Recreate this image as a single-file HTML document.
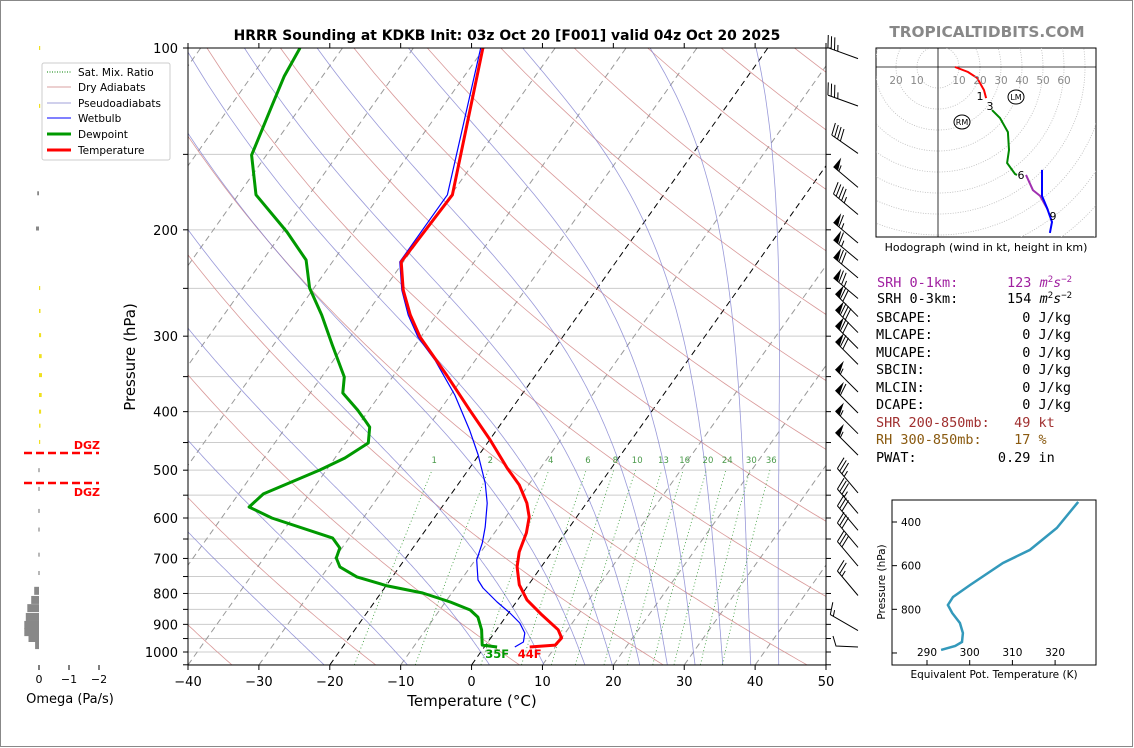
<!DOCTYPE html>
<html><head><meta charset="utf-8"><style>
html,body{margin:0;padding:0;background:#fff;}
svg{display:block;font-family:"DejaVu Sans","Liberation Sans",sans-serif;}
.mono{font-family:"DejaVu Sans Mono","Liberation Mono",monospace;font-size:13.5px;}
</style></head><body>
<svg id="chart" width="1134" height="748" viewBox="0 0 1134 748" xmlns="http://www.w3.org/2000/svg">
<rect x="0.5" y="0.5" width="1132" height="746" fill="#fff" stroke="#888"/>
<defs><clipPath id="plotclip"><rect x="188" y="48" width="638" height="617"/></clipPath>
<clipPath id="hodoclip"><rect x="876" y="48" width="220" height="189"/></clipPath>
<clipPath id="theclip"><rect x="892" y="500" width="204" height="165"/></clipPath></defs>
<text x="507" y="40" text-anchor="middle" font-size="13.9" font-weight="bold">HRRR Sounding at KDKB Init: 03z Oct 20 [F001] valid 04z Oct 20 2025</text>
<text x="987" y="37" text-anchor="middle" font-size="15.3" font-weight="bold" fill="#888">TROPICALTIDBITS.COM</text>
<g id="bg" clip-path="url(#plotclip)"></g>
<g id="series" clip-path="url(#plotclip)"></g>
<rect x="188" y="48" width="638" height="617" fill="none" stroke="#000"/>
<g id="axes"></g>
<text x="472" y="706" text-anchor="middle" font-size="15">Temperature (°C)</text>
<text transform="translate(135,357) rotate(-90)" text-anchor="middle" font-size="15">Pressure (hPa)</text>
<g>
<rect x="42" y="63" width="128" height="97" rx="2" fill="#fff" stroke="#ccc"/>
<line x1="47" y1="72" x2="71" y2="72" stroke="green" stroke-dasharray="1,1.5"/>
<text x="78" y="76" font-size="10.5">Sat. Mix. Ratio</text>
<line x1="47" y1="87" x2="71" y2="87" stroke="#d9a0a0"/>
<text x="78" y="91" font-size="10.5">Dry Adiabats</text>
<line x1="47" y1="103" x2="71" y2="103" stroke="#a0a0d9"/>
<text x="78" y="107" font-size="10.5">Pseudoadiabats</text>
<line x1="47" y1="118" x2="71" y2="118" stroke="#00f"/>
<text x="78" y="122" font-size="10.5">Wetbulb</text>
<line x1="47" y1="134" x2="71" y2="134" stroke="#090" stroke-width="3"/>
<text x="78" y="138" font-size="10.5">Dewpoint</text>
<line x1="47" y1="150" x2="71" y2="150" stroke="#f00" stroke-width="3"/>
<text x="78" y="154" font-size="10.5">Temperature</text>
</g>
<g id="omega"></g>
<text x="70" y="703" text-anchor="middle" font-size="13">Omega (Pa/s)</text>
<g id="barbs"></g>
<g id="hodo"></g>
<text x="986" y="251" text-anchor="middle" font-size="11">Hodograph (wind in kt, height in km)</text>
<g>
<text class="mono" x="877" y="287" fill="#a020a0" xml:space="preserve">SRH 0-1km:      123 <tspan font-style="italic">m</tspan><tspan font-size="9" dy="-5">2</tspan><tspan dy="5" font-style="italic">s</tspan><tspan font-size="9" dy="-5">−2</tspan></text>
<text class="mono" x="877" y="303" xml:space="preserve">SRH 0-3km:      154 <tspan font-style="italic">m</tspan><tspan font-size="9" dy="-5">2</tspan><tspan dy="5" font-style="italic">s</tspan><tspan font-size="9" dy="-5">−2</tspan></text>
<text class="mono" x="876" y="322" xml:space="preserve">SBCAPE:           0 J/kg</text>
<text class="mono" x="876" y="339" xml:space="preserve">MLCAPE:           0 J/kg</text>
<text class="mono" x="876" y="357" xml:space="preserve">MUCAPE:           0 J/kg</text>
<text class="mono" x="876" y="374" xml:space="preserve">SBCIN:            0 J/kg</text>
<text class="mono" x="876" y="392" xml:space="preserve">MLCIN:            0 J/kg</text>
<text class="mono" x="876" y="409" xml:space="preserve">DCAPE:            0 J/kg</text>
<text class="mono" x="876" y="427" xml:space="preserve" fill="#a03030">SHR 200-850mb:   49 kt</text>
<text class="mono" x="876" y="444" xml:space="preserve" fill="#8a5a10">RH 300-850mb:    17 %</text>
<text class="mono" x="876" y="462" xml:space="preserve">PWAT:          0.29 in</text>
</g>
<g id="thetae"></g>
<text transform="translate(885,582) rotate(-90)" text-anchor="middle" font-size="10.5">Pressure (hPa)</text>
<text x="994" y="678" text-anchor="middle" font-size="10.5">Equivalent Pot. Temperature (K)</text>
</svg>
<script>
// ---- data ----
const tempP=[100,175,226,251.6,276.7,301,349,397.6,445.7,496,529,567,597.6,635,683,723,774,820,868,919,948,974,981];
const tempT=[-60.2,-49.8,-50.3,-47.2,-43.7,-40.1,-32.4,-25.8,-19.9,-14.7,-11.3,-8.4,-6.7,-5.5,-4.6,-3.4,-1.3,1.3,4.9,8.7,10.0,9.8,6.4];
const dewP=[100,111.3,124.3,150.4,175,201.7,224.4,249.7,276.7,310.2,350.5,372.6,397.6,413,424.2,450.8,477.3,499.5,547.4,575.4,600,647.8,672.8,698.9,723,751,777.3,798.6,826.6,852.2,875.3,919,974,981];
const dewT=[-86.0,-85.4,-84.2,-82.1,-77.5,-69.4,-63.9,-60.6,-56.2,-51.7,-46.8,-45.4,-41.6,-39.6,-38.2,-36.8,-38.6,-40.9,-46.5,-47.2,-42.9,-32.3,-30.3,-29.8,-28.4,-25.0,-19.8,-14.1,-9.3,-5.7,-3.9,-2.1,-0.5,1.8];
const wbP=[100,175,226,251.6,276.7,301,328.6,375.4,429.1,471.9,525,567,621,660,704,760,783.4,826.6,861.9,895.4,930,962.5,981];
const wbT=[-60.5,-50.5,-50.5,-47.4,-44.0,-40.4,-35.7,-29.4,-23.8,-20.1,-16.3,-14.0,-11.9,-10.7,-9.8,-7.6,-6.1,-2.7,0.2,2.6,4.3,5.0,4.3];
const omegaP=[100,124.7,174,199,249.7,272.5,298.8,323.7,348,375.4,400,422,449,500,537,584,627,690,740,792,820,846,875,902,927,948,974];
const omegaV=[-0.03,-0.04,0.06,0.1,-0.04,-0.05,-0.07,-0.09,-0.1,-0.09,-0.07,-0.05,-0.03,0.02,0.02,0.02,0.02,0.02,0.02,0.16,0.26,0.39,0.44,0.49,0.49,0.35,0.13];
const barbP=[101,121,145,165,183,204,218,233,252,270,287,305,324,360,390,422,458,529,572,610,651,699,782,894];
const barbSpd=[35,35,40,55,45,65,65,70,75,70,80,70,70,55,60,55,55,35,35,30,30,30,25,15];
const barbDir=[290,290,305,310,310,310,310,310,310,315,315,315,315,315,315,315,315,320,320,320,320,320,320,300];
const hodoRedU=[8.1,14.3,18.6,21.9,22.9], hodoRedV=[0,-2.4,-5.2,-11,-14.8];
const hodoGreenU=[25.7,29.5,33.3,33.8,32.9,36.7,37.6], hodoGreenV=[-20.5,-24.3,-31,-39.5,-45.7,-51,-51.4];
const hodoPurpleU=[41.9,45.2,48.6,52.4], hodoPurpleV=[-51.4,-58.6,-61.4,-68.1];
const hodoBlueU=[49.5,49.5,51.9,54.3,53.3], hodoBlueV=[-49,-61.4,-67.1,-73.8,-79];
const thetaP=[308,427.5,528,587.8,688.6,743.6,780,816.9,862.7,908.5,949.7,968,986];
const thetaE=[325.4,320.4,314.1,307.8,300.1,296.1,294.9,295.9,297.7,298.4,298.2,296.6,293.3];
const tempTicks=[-40,-30,-20,-10,0,10,20,30,40,50];
const presTicks=[100,200,300,400,500,600,700,800,900,1000];
const mixRatios=[1,2,4,6,8,10,13,16,20,24,30,36];
const dryThetas=[196,216,236,256,276,296,316,336,356,376,396,416,436,456,476,496,516];
const moistT0=[-24,-12,0,8,14,18,22,26,30,34,38,42];

// ---- scales ----
const NS='http://www.w3.org/2000/svg';
function yOf(p){return 48+604*Math.log10(p/100);}
function xOf(T,p){return 188+(T+40)*7.089+0.71*(665-yOf(p));}
function mk(tag,attrs,parent){const e=document.createElementNS(NS,tag);for(const k in attrs)e.setAttribute(k,attrs[k]);parent.appendChild(e);return e;}
function pathFrom(pts){return pts.map((q,i)=>(i?'L':'M')+q[0].toFixed(1)+','+q[1].toFixed(1)).join('');}
const bg=document.getElementById('bg'),series=document.getElementById('series'),axes=document.getElementById('axes');

for(let p=100;p<=1050;p+=50){const l=mk('line',{x1:188,x2:826,y1:yOf(p),y2:yOf(p),stroke:'#ccc','stroke-width':1},bg);

}
for(let T=-130;T<=50;T+=10){const blk=(T===0||T===-20);const l=mk('line',{x1:xOf(T,1050),y1:yOf(1050),x2:xOf(T,100),y2:yOf(100),stroke:blk?'#000':'#999','stroke-width':1,'stroke-dasharray':'6,4'},bg);

}
dryThetas.forEach(th=>{const pts=[];for(let p=1050;p>=100;p-=10){pts.push([xOf(th*Math.pow(p/1000,0.2857)-273.15,p),yOf(p)]);}
const l=mk('path',{d:pathFrom(pts),fill:'none',stroke:'#d08080','stroke-width':0.8,opacity:0.8},bg);

});
function rs(T,p){const es=6.112*Math.exp(17.67*T/(T+243.5));return 0.622*es/(p-es);}
function moistRate(T,p){const Tk=T+273.15,r=rs(T,p),Lv=2.5e6,Rd=287,cp=1005;return (Rd*Tk+Lv*r)/(p*(cp+Lv*Lv*r*0.622/(Rd*Tk*Tk)));}
moistT0.forEach(T0=>{const pts=[];let T=T0;const down=[];let Td=T0;for(let p=1000;p<=1050;p+=5){down.push([xOf(Td,p),yOf(p)]);Td+=moistRate(Td,p)*5;}
for(let p=1000;p>=100;p-=5){pts.push([xOf(T,p),yOf(p)]);T-=moistRate(T,p)*5;if(T<-120)break;}
const l=mk('path',{d:pathFrom(down.reverse().concat(pts)),fill:'none',stroke:'#8080d0','stroke-width':0.8,opacity:0.8},bg);

});
function tdFromW(w,p){const e=w*p/(622+w);const a=Math.log(e/6.112);return 243.5*a/(17.67-a);}
mixRatios.forEach(w=>{const pts=[];for(let p=1050;p>=500;p-=10)pts.push([xOf(tdFromW(w,p),p),yOf(p)]);
const l=mk('path',{d:pathFrom(pts),fill:'none',stroke:'green','stroke-width':0.8,'stroke-dasharray':'1,2.5',opacity:0.8},bg);


const t=mk('text',{x:xOf(tdFromW(w,490),490),y:yOf(490)-2,'font-size':8.5,fill:'#4a9a4a','text-anchor':'middle'},bg);t.textContent=w;

});

function line(P,T,color,w,name){const pts=P.map((p,i)=>[xOf(T[i],p),yOf(p)]);const l=mk('path',{d:pathFrom(pts),fill:'none',stroke:color,'stroke-width':w,'stroke-linejoin':'round'},series);

}
line(wbP,wbT,'#00f',1.2,'wetbulb-line');
line(dewP,dewT,'#090',3,'dewpoint-line');
line(tempP,tempT,'#f00',3,'temperature-line');
const sd=mk('text',{x:xOf(dewT[dewT.length-1],dewP[dewP.length-1])+0,y:yOf(dewP[dewP.length-1])+11,'font-size':11.5,'font-weight':'bold',fill:'#090','text-anchor':'middle'},axes);sd.textContent='35F';


const st=mk('text',{x:xOf(tempT[tempT.length-1],tempP[tempP.length-1])+0,y:yOf(tempP[tempP.length-1])+11,'font-size':11.5,'font-weight':'bold',fill:'#f00','text-anchor':'middle'},axes);st.textContent='44F';



tempTicks.forEach(T=>{const x=188+(T+40)*7.089;mk('line',{x1:x,x2:x,y1:665,y2:670,stroke:'#000'},axes);mk('line',{x1:x,x2:x,y1:48,y2:43,stroke:'#000'},axes);
const t=mk('text',{x:x,y:686,'font-size':13,'text-anchor':'middle'},axes);t.textContent=T<0?'−'+(-T):T;

});
for(let p=100;p<=1050;p+=50){const y=yOf(p);mk('line',{x1:183,x2:188,y1:y,y2:y,stroke:'#000'},axes);mk('line',{x1:826,x2:831,y1:y,y2:y,stroke:'#000'},axes);}
presTicks.forEach(p=>{const t=mk('text',{x:178,y:yOf(p)+5,'font-size':13,'text-anchor':'end'},axes);t.textContent=p;

});

const om=document.getElementById('omega');
function ox(v){return 39-v*30;}
omegaP.forEach((p,i)=>{const v=omegaV[i];const y=yOf(p);const big=Math.abs(v)>0.1;const h=big?8:4;
const x1=Math.min(ox(0),ox(v)),w=Math.max(1.2,Math.abs(ox(v)-ox(0)));
const r=mk('rect',{x:x1,y:y-h/2,width:w,height:h,fill:v<0?'#f0e020':'#888'},om);

});
[0,-1,-2].forEach(v=>{mk('line',{x1:ox(v),x2:ox(v),y1:665,y2:670,stroke:'#000'},om);const t=mk('text',{x:ox(v),y:683,'font-size':11,'text-anchor':'middle'},om);t.textContent=v<0?'−'+(-v):'0';

});
[453,483].forEach(y=>{const l=mk('line',{x1:24,x2:99,y1:y,y2:y,stroke:'#f00','stroke-width':2.5,'stroke-dasharray':'8,4'},om);

});
const g1=mk('text',{x:100,y:449,'font-size':11,'font-weight':'bold',fill:'#f00','text-anchor':'end'},om);g1.textContent='DGZ';


const g2=mk('text',{x:100,y:496,'font-size':11,'font-weight':'bold',fill:'#f00','text-anchor':'end'},om);g2.textContent='DGZ';



const bb=document.getElementById('barbs');
barbP.forEach((p,i)=>{const by=yOf(p)+8,bx=858;const d=barbDir[i]*Math.PI/180;const sx=Math.sin(d),sy=-Math.cos(d);const L=32;
const tx=bx+sx*L,ty=by+sy*L;const px=-sy,py=sx;let s='M'+bx+','+by+'L'+tx.toFixed(1)+','+ty.toFixed(1);
let spd=Math.round(barbSpd[i]/5)*5;let pos=0;let flags='';
while(spd>=50){const a=[tx-sx*pos,ty-sy*pos],b=[tx-sx*(pos+6),ty-sy*(pos+6)],c=[a[0]+px*12,a[1]+py*12];flags+='M'+a.join(',')+'L'+c.join(',')+'L'+b.join(',')+'Z';pos+=7;spd-=50;}
while(spd>=10){const a=[tx-sx*pos,ty-sy*pos];s+='M'+a.join(',')+'L'+(a[0]+px*12+sx*4)+','+(a[1]+py*12+sy*4);pos+=3.5;spd-=10;}
if(spd>=5){if(pos===0)pos=3.5;const a=[tx-sx*pos,ty-sy*pos];s+='M'+a.join(',')+'L'+(a[0]+px*6+sx*2)+','+(a[1]+py*6+sy*2);}
const g=mk('g',{},bb);


mk('path',{d:s,stroke:'#000','stroke-width':1,fill:'none'},g);if(flags)mk('path',{d:flags,fill:'#000'},g);});
mk('path',{d:'M833,636L836,646L858,647',stroke:'#000',fill:'none'},bb);

const ho=document.getElementById('hodo');const hcx=938,hcy=67,hk=2.1;
mk('rect',{x:876,y:48,width:220,height:189,fill:'#fff',stroke:'#000'},ho);
const hc=mk('g',{'clip-path':'url(#hodoclip)'},ho);
for(let r=10;r<=120;r+=10)mk('circle',{cx:hcx,cy:hcy,r:r*hk,fill:'none',stroke:'#bbb','stroke-width':0.8,'stroke-dasharray':'1,1.5'},hc);
mk('line',{x1:876,x2:1096,y1:hcy,y2:hcy,stroke:'#000','stroke-width':0.8},hc);
mk('line',{x1:hcx,x2:hcx,y1:48,y2:237,stroke:'#000','stroke-width':0.8},hc);
[20,10].forEach(v=>{const t=mk('text',{x:hcx-v*hk,y:84,'font-size':10.5,fill:'#888','text-anchor':'middle'},ho);t.textContent=v;});
[10,20,30,40,50,60].forEach(v=>{const t=mk('text',{x:hcx+v*hk,y:84,'font-size':10.5,fill:'#888','text-anchor':'middle'},ho);t.textContent=v;});
function hline(U,V,c,name){const l=mk('path',{d:pathFrom(U.map((u,i)=>[hcx+u*hk,hcy-V[i]*hk])),fill:'none',stroke:c,'stroke-width':2},hc);

}
hline(hodoRedU,hodoRedV,'#f00','hodo-0-1km');hline(hodoGreenU,hodoGreenV,'#080','hodo-3-6km');hline(hodoPurpleU,hodoPurpleV,'#a030b0','hodo-6-9km');hline(hodoBlueU,hodoBlueV,'#00f','hodo-9km-plus');
[['1',980,100],['3',990,110],['6',1021,179],['9',1053,220]].forEach(a=>{const t=mk('text',{x:a[1],y:a[2],'font-size':11,'text-anchor':'middle'},ho);t.textContent=a[0];});
mk('ellipse',{cx:1016,cy:97,rx:8,ry:7,fill:'#fff',stroke:'#000'},ho);const lm=mk('text',{x:1016,y:100,'font-size':8,'text-anchor':'middle'},ho);lm.textContent='LM';
mk('ellipse',{cx:962,cy:122,rx:8,ry:7,fill:'#fff',stroke:'#000'},ho);const rm=mk('text',{x:962,y:125,'font-size':8,'text-anchor':'middle'},ho);rm.textContent='RM';

const te=document.getElementById('thetae');
function tx_(th){return 927+(th-290)*4.27;}function ty_(p){return 522+(p-400)*0.2183;}
mk('rect',{x:892,y:500,width:204,height:165,fill:'#fff',stroke:'#000'},te);
const tl=mk('path',{d:pathFrom(thetaP.map((p,i)=>[tx_(thetaE[i]),ty_(p)])),fill:'none',stroke:'#3399bb','stroke-width':2.5,'clip-path':'url(#theclip)'},te);


[400,600,800,1000].forEach(p=>{mk('line',{x1:892,x2:897,y1:ty_(p),y2:ty_(p),stroke:'#000'},te);if(p<1000){const t=mk('text',{x:901,y:ty_(p)+4,'font-size':10.5},te);t.textContent=p;}});
[290,300,310,320].forEach(th=>{mk('line',{x1:tx_(th),x2:tx_(th),y1:660,y2:665,stroke:'#000'},te);const t=mk('text',{x:tx_(th),y:656,'font-size':10.5,'text-anchor':'middle'},te);t.textContent=th;});
</script>
</body></html>
